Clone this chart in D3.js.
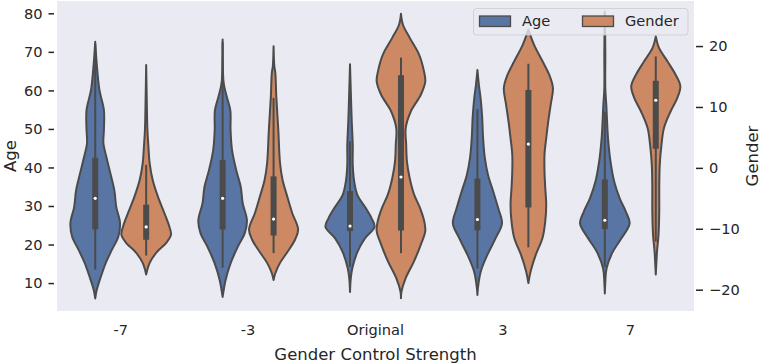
<!DOCTYPE html>
<html>
<head>
<meta charset="utf-8">
<script src="https://cdn.jsdelivr.net/npm/d3@7"></script>
<style>
  html, body { margin: 0; padding: 0; background: #ffffff; }
  svg { display: block; font-family: "DejaVu Sans", sans-serif; }
</style>
</head>
<body>
<svg id="chart" width="760" height="364"></svg>
<script>
// ---------------- data ----------------
const categories = ["-7", "-3", "Original", "3", "7"];
const seriesNames = ["Age", "Gender"];
const ageTicks = [10, 20, 30, 40, 50, 60, 70, 80];
const genderTicks = [-20, -10, 0, 10, 20];

// violin outlines: [value, relative density width]
const ageProfiles = [
  [[72.6,0],[67.0,0.06],[60.1,0.17],[54.9,0.35],[49.7,0.35],[46.3,0.33],[42.7,0.45],[38.5,0.61],[34.1,0.77],[29.7,0.85],[25.6,1.0],[22.0,0.93],[18.6,0.67],[15.3,0.43],[11.7,0.23],[8.2,0.06],[6.0,0]],
  [[73.2,0],[62.7,0.03],[60.9,0.07],[58.3,0.17],[54.9,0.31],[49.7,0.32],[44.5,0.38],[39.3,0.55],[35.0,0.73],[30.7,0.81],[26.3,0.98],[22.9,0.89],[19.4,0.61],[15.1,0.32],[10.8,0.12],[6.4,0]],
  [[66.8,0],[60.0,0.03],[57.9,0.04],[51.9,0.07],[45.8,0.11],[40.6,0.11],[36.3,0.17],[32.8,0.30],[29.4,0.64],[26.8,0.87],[24.6,0.99],[21.6,0.60],[18.1,0.30],[13.8,0.09],[11.2,0.03],[7.7,0]],
  [[65.3,0],[61.4,0.06],[57.9,0.13],[53.2,0.19],[47.5,0.23],[42.4,0.30],[38.0,0.43],[33.7,0.64],[29.4,0.84],[25.5,0.99],[21.6,0.73],[17.3,0.40],[12.9,0.13],[8.6,0.02],[6.9,0]],
  [[80.5,0],[70.0,0.02],[60.5,0.02],[56.2,0.06],[47.5,0.13],[41.5,0.23],[36.3,0.38],[32.0,0.60],[28.5,0.85],[25.5,1.0],[21.6,0.67],[18.1,0.32],[13.8,0.07],[10.3,0.02],[7.3,0]]
];
const genderProfiles = [
  [[16.9,0],[12.0,0.02],[6.27,0.05],[3.52,0.09],[0.8,0.14],[-1.94,0.26],[-4.68,0.47],[-7.4,0.73],[-9.6,0.93],[-10.97,1.0],[-12.3,0.81],[-13.96,0.40],[-15.6,0.14],[-17.5,0]],
  [[19.95,0],[16.7,0.03],[15.6,0.07],[11.7,0.11],[6.27,0.19],[0.8,0.26],[-1.94,0.36],[-4.68,0.55],[-7.4,0.75],[-10.1,0.99],[-11.76,0.87],[-13.97,0.53],[-15.6,0.26],[-17.3,0.07],[-18.4,0]],
  [[25.3,0],[23.5,0.08],[21.3,0.36],[18.6,0.73],[15.8,0.93],[14.2,0.98],[12.0,0.80],[9.3,0.40],[6.5,0.19],[3.8,0.21],[1.07,0.24],[-1.66,0.35],[-4.4,0.53],[-6.6,0.77],[-8.8,0.94],[-10.4,0.98],[-12.6,0.80],[-15.3,0.53],[-18.1,0.19],[-20.3,0.02],[-21.4,0]],
  [[22.7,0],[20.2,0.23],[17.5,0.57],[15.3,0.84],[13.1,0.99],[10.4,0.90],[7.6,0.80],[4.9,0.72],[2.2,0.65],[-0.57,0.65],[-3.3,0.68],[-6.0,0.72],[-8.8,0.68],[-11.5,0.57],[-14.25,0.30],[-17.0,0.09],[-18.9,0]],
  [[21.6,0],[19.7,0.13],[17.5,0.47],[15.3,0.80],[13.4,0.99],[11.5,0.87],[9.3,0.60],[6.55,0.33],[3.8,0.23],[0.5,0.16],[-3.3,0.14],[-7.1,0.14],[-11.0,0.11],[-13.7,0.05],[-15.9,0.02],[-17.5,0]]
];
// box stats: [whisker low, q1, median, q3, whisker high]
const ageBoxes = [
  [13.5, 23.9, 32.0, 42.5, 72.0],
  [14.0, 23.9, 32.0, 41.9, 72.5],
  [14.2, 23.5, 24.8, 33.9, 46.8],
  [13.8, 23.7, 26.5, 37.1, 55.1],
  [14.2, 24.0, 26.3, 36.9, 54.5]
];
const genderBoxes = [
  [-14.4, -11.8, -9.7, -6.04, 0.5],
  [-14.0, -11.1, -8.4, -1.4, 11.5],
  [-14.0, -10.3, -1.5, 15.2, 18.1],
  [-13.05, -6.5, 3.9, 12.8, 17.1],
  [-12.1, 3.15, 11.1, 14.3, 18.3]
];

// ---------------- layout ----------------
const svg = d3.select("#chart");
const P = { left: 57, right: 694, top: 1, bottom: 311 };
const colors = { Age: "#5875A4", Gender: "#CC8963" };
const gray = "#4B4B4B";
const textColor = "#262626";

const x = d3.scaleBand().domain(categories).range([P.left, P.right]);
const hueOffset = { Age: -0.2 * x.bandwidth(), Gender: 0.2 * x.bandwidth() };
const yAge = d3.scaleLinear().domain([2.75, 83.2]).range([P.bottom, P.top]);
const yGender = d3.scaleLinear().domain([-23.5, 27.4]).range([P.bottom, P.top]);
const wScale = d3.scaleLinear().domain([0, 1]).range([0, 24.8]);

svg.append("rect")
  .attr("x", P.left).attr("y", P.top)
  .attr("width", P.right - P.left).attr("height", P.bottom - P.top)
  .attr("fill", "#EAEAF2");

function drawSeries(name, profiles, boxes, yScale) {
  const g = svg.append("g");
  categories.forEach((cat, i) => {
    const cx = x(cat) + x.bandwidth() / 2 + hueOffset[name];
    const area = d3.area()
      .y(d => yScale(d[0]))
      .x0(d => cx - wScale(d[1]))
      .x1(d => cx + wScale(d[1]))
      .curve(d3.curveCatmullRom.alpha(0.5));
    g.append("path")
      .attr("d", area(profiles[i]))
      .attr("fill", colors[name])
      .attr("stroke", gray)
      .attr("stroke-width", 2)
      .attr("stroke-linejoin", "round");
    const b = boxes[i];
    g.append("line")
      .attr("x1", cx).attr("x2", cx)
      .attr("y1", yScale(b[0])).attr("y2", yScale(b[4]))
      .attr("stroke", gray).attr("stroke-width", 2);
    g.append("line")
      .attr("x1", cx).attr("x2", cx)
      .attr("y1", yScale(b[1])).attr("y2", yScale(b[3]))
      .attr("stroke", gray).attr("stroke-width", 6)
      .attr("stroke-linecap", "butt");
    g.append("circle")
      .attr("cx", cx).attr("cy", yScale(b[2]))
      .attr("r", 1.6)
      .attr("fill", "#ffffff");
  });
}
drawSeries("Age", ageProfiles, ageBoxes, yAge);
drawSeries("Gender", genderProfiles, genderBoxes, yGender);

// ---------------- axes ----------------
const fmt = v => (v < 0 ? "\u2212" + Math.abs(v) : String(v));

const leftAxis = d3.axisLeft(yAge).tickValues(ageTicks).tickSize(5.5).tickPadding(6).tickFormat(fmt);
const gl = svg.append("g").attr("transform", `translate(${P.left - 3},0)`).call(leftAxis);
gl.select(".domain").remove();
gl.selectAll(".tick line").attr("stroke", textColor).attr("stroke-width", 1.5);
gl.selectAll(".tick text").attr("fill", textColor).style("font-size", "14.6px")
  .style("font-family", "DejaVu Sans");

const rightAxis = d3.axisRight(yGender).tickValues(genderTicks).tickSize(7).tickPadding(6).tickFormat(fmt);
const gr = svg.append("g").attr("transform", `translate(${P.right + 2},0)`).call(rightAxis);
gr.select(".domain").remove();
gr.selectAll(".tick line").attr("stroke", textColor).attr("stroke-width", 1.5);
gr.selectAll(".tick text").attr("fill", textColor).style("font-size", "14.6px")
  .style("font-family", "DejaVu Sans");

const bottomAxis = d3.axisBottom(x).tickSize(0).tickPadding(14);
const gb = svg.append("g").attr("transform", `translate(0,${P.bottom})`).call(bottomAxis);
gb.select(".domain").remove();
gb.selectAll(".tick text").attr("fill", textColor).style("font-size", "14.6px")
  .style("font-family", "DejaVu Sans");

svg.append("text")
  .attr("x", (P.left + P.right) / 2).attr("y", 359.5)
  .attr("text-anchor", "middle").attr("fill", textColor)
  .style("font-size", "16.5px").text("Gender Control Strength");
svg.append("text")
  .attr("transform", `translate(15.5,${(P.top + P.bottom) / 2}) rotate(-90)`)
  .attr("text-anchor", "middle").attr("fill", textColor)
  .style("font-size", "16.5px").text("Age");
svg.append("text")
  .attr("transform", `translate(757.5,${(P.top + P.bottom) / 2}) rotate(-90)`)
  .attr("text-anchor", "middle").attr("fill", textColor)
  .style("font-size", "16.5px").text("Gender");

// ---------------- legend ----------------
const lg = svg.append("g");
lg.append("rect")
  .attr("x", 473.5).attr("y", 8.5).attr("width", 214.5).attr("height", 26.5)
  .attr("rx", 3).attr("fill", "#EAEAF2").attr("fill-opacity", 0.8)
  .attr("stroke", "#CCCCCC").attr("stroke-opacity", 0.8).attr("stroke-width", 1);
const legendX = { Age: 479.5, Gender: 582.5 };
seriesNames.forEach(name => {
  lg.append("rect")
    .attr("x", legendX[name]).attr("y", 16).attr("width", 31).attr("height", 10.5)
    .attr("fill", colors[name]).attr("stroke", gray).attr("stroke-width", 1.3);
  lg.append("text")
    .attr("x", legendX[name] + 42.5).attr("y", 26.3)
    .attr("fill", textColor).style("font-size", "14.6px").text(name);
});
</script>
</body>
</html>
